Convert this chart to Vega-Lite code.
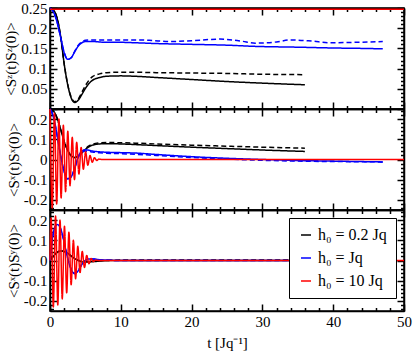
{
  "$schema": "https://vega.github.io/schema/vega-lite/v6.json",
  "padding": {"top": 0, "left": 3, "right": 5, "bottom": 3},
  "spacing": 0,
  "bounds": "flush",
  "config": {
    "font": "Liberation Serif",
    "style": {"guide-label": {"font": "Liberation Serif", "fontWeight": "normal"}, "guide-title": {"font": "Liberation Serif", "fontWeight": "normal"}},
    "view": {"stroke": "black", "strokeWidth": 1.5},
    "axis": {"grid": false, "zindex": 1, "domainColor": "black", "domainWidth": 1.5, "tickColor": "black", "tickWidth": 1.5, "labelFont": "Liberation Serif", "labelFontSize": 15, "labelColor": "black", "titleFont": "Liberation Serif", "titleFontSize": 15, "titleFontWeight": "normal", "titleColor": "black", "labelOverlap": false, "labelFlush": false},
    "legend": {"labelFont": "Liberation Serif"}
  },
  "datasets": {
    "zz": [
      {"s":"a","d":"solid","t":0,"v":0.25},{"s":"a","d":"solid","t":0.5,"v":0.245},{"s":"a","d":"solid","t":1,"v":0.225},{"s":"a","d":"solid","t":1.5,"v":0.18},{"s":"a","d":"solid","t":2,"v":0.112},{"s":"a","d":"solid","t":2.5,"v":0.06},{"s":"a","d":"solid","t":3,"v":0.027},{"s":"a","d":"solid","t":3.5,"v":0.016},{"s":"a","d":"solid","t":4,"v":0.022},{"s":"a","d":"solid","t":4.5,"v":0.036},{"s":"a","d":"solid","t":5,"v":0.051},{"s":"a","d":"solid","t":5.5,"v":0.063},{"s":"a","d":"solid","t":6,"v":0.071},{"s":"a","d":"solid","t":7,"v":0.078},{"s":"a","d":"solid","t":8,"v":0.081},{"s":"a","d":"solid","t":10,"v":0.082},{"s":"a","d":"solid","t":12,"v":0.081},{"s":"a","d":"solid","t":15,"v":0.078},{"s":"a","d":"solid","t":20,"v":0.073},{"s":"a","d":"solid","t":25,"v":0.068},{"s":"a","d":"solid","t":30,"v":0.064},{"s":"a","d":"solid","t":36,"v":0.06},
      {"s":"a","d":"dashed","t":0,"v":0.25},{"s":"a","d":"dashed","t":0.5,"v":0.245},{"s":"a","d":"dashed","t":1,"v":0.225},{"s":"a","d":"dashed","t":1.5,"v":0.18},{"s":"a","d":"dashed","t":2,"v":0.112},{"s":"a","d":"dashed","t":2.5,"v":0.061},{"s":"a","d":"dashed","t":3,"v":0.029},{"s":"a","d":"dashed","t":3.5,"v":0.018},{"s":"a","d":"dashed","t":4,"v":0.025},{"s":"a","d":"dashed","t":4.5,"v":0.041},{"s":"a","d":"dashed","t":5,"v":0.058},{"s":"a","d":"dashed","t":5.5,"v":0.071},{"s":"a","d":"dashed","t":6,"v":0.08},{"s":"a","d":"dashed","t":7,"v":0.087},{"s":"a","d":"dashed","t":8,"v":0.09},{"s":"a","d":"dashed","t":10,"v":0.091},{"s":"a","d":"dashed","t":12,"v":0.091},{"s":"a","d":"dashed","t":15,"v":0.09},{"s":"a","d":"dashed","t":20,"v":0.089},{"s":"a","d":"dashed","t":25,"v":0.088},{"s":"a","d":"dashed","t":30,"v":0.086},{"s":"a","d":"dashed","t":36,"v":0.085},
      {"s":"b","d":"solid","t":0,"v":0.25},{"s":"b","d":"solid","t":0.5,"v":0.24},{"s":"b","d":"solid","t":1,"v":0.215},{"s":"b","d":"solid","t":1.5,"v":0.178},{"s":"b","d":"solid","t":2,"v":0.14},{"s":"b","d":"solid","t":2.5,"v":0.123},{"s":"b","d":"solid","t":3,"v":0.127},{"s":"b","d":"solid","t":3.5,"v":0.142},{"s":"b","d":"solid","t":4,"v":0.156},{"s":"b","d":"solid","t":4.5,"v":0.164},{"s":"b","d":"solid","t":5,"v":0.167},{"s":"b","d":"solid","t":6,"v":0.167},{"s":"b","d":"solid","t":8,"v":0.165},{"s":"b","d":"solid","t":10,"v":0.165},{"s":"b","d":"solid","t":12,"v":0.164},{"s":"b","d":"solid","t":15,"v":0.162},{"s":"b","d":"solid","t":20,"v":0.16},{"s":"b","d":"solid","t":25,"v":0.158},{"s":"b","d":"solid","t":29,"v":0.155},{"s":"b","d":"solid","t":35,"v":0.153},{"s":"b","d":"solid","t":40,"v":0.151},{"s":"b","d":"solid","t":44,"v":0.15},{"s":"b","d":"solid","t":47,"v":0.149},
      {"s":"b","d":"dashed","t":0,"v":0.25},{"s":"b","d":"dashed","t":0.5,"v":0.24},{"s":"b","d":"dashed","t":1,"v":0.215},{"s":"b","d":"dashed","t":1.5,"v":0.178},{"s":"b","d":"dashed","t":2,"v":0.14},{"s":"b","d":"dashed","t":2.5,"v":0.123},{"s":"b","d":"dashed","t":3,"v":0.127},{"s":"b","d":"dashed","t":3.5,"v":0.143},{"s":"b","d":"dashed","t":4,"v":0.158},{"s":"b","d":"dashed","t":4.5,"v":0.166},{"s":"b","d":"dashed","t":5,"v":0.17},{"s":"b","d":"dashed","t":6,"v":0.171},{"s":"b","d":"dashed","t":8,"v":0.171},{"s":"b","d":"dashed","t":10,"v":0.171},{"s":"b","d":"dashed","t":12,"v":0.171},{"s":"b","d":"dashed","t":14,"v":0.17},{"s":"b","d":"dashed","t":17,"v":0.167},{"s":"b","d":"dashed","t":20,"v":0.169},{"s":"b","d":"dashed","t":24,"v":0.173},{"s":"b","d":"dashed","t":27,"v":0.168},{"s":"b","d":"dashed","t":29,"v":0.163},{"s":"b","d":"dashed","t":32,"v":0.166},{"s":"b","d":"dashed","t":34,"v":0.171},{"s":"b","d":"dashed","t":37,"v":0.168},{"s":"b","d":"dashed","t":39.5,"v":0.164},{"s":"b","d":"dashed","t":43,"v":0.165},{"s":"b","d":"dashed","t":47,"v":0.167},
      {"s":"c","d":"solid","t":0,"v":0.247},{"s":"c","d":"solid","t":50,"v":0.247}
    ],
    "xx": [
      {"s":"a","d":"solid","t":0,"v":0.25},{"s":"a","d":"solid","t":0.5,"v":0.24},{"s":"a","d":"solid","t":1,"v":0.205},{"s":"a","d":"solid","t":1.5,"v":0.15},{"s":"a","d":"solid","t":2,"v":0.09},{"s":"a","d":"solid","t":2.5,"v":0.045},{"s":"a","d":"solid","t":3,"v":0.018},{"s":"a","d":"solid","t":3.5,"v":0.01},{"s":"a","d":"solid","t":4,"v":0.018},{"s":"a","d":"solid","t":4.5,"v":0.033},{"s":"a","d":"solid","t":5,"v":0.05},{"s":"a","d":"solid","t":5.5,"v":0.063},{"s":"a","d":"solid","t":6,"v":0.071},{"s":"a","d":"solid","t":7,"v":0.077},{"s":"a","d":"solid","t":8,"v":0.078},{"s":"a","d":"solid","t":10,"v":0.077},{"s":"a","d":"solid","t":12,"v":0.074},{"s":"a","d":"solid","t":15,"v":0.069},{"s":"a","d":"solid","t":20,"v":0.061},{"s":"a","d":"solid","t":25,"v":0.054},{"s":"a","d":"solid","t":30,"v":0.047},{"s":"a","d":"solid","t":36,"v":0.04},
      {"s":"a","d":"dashed","t":0,"v":0.25},{"s":"a","d":"dashed","t":0.5,"v":0.24},{"s":"a","d":"dashed","t":1,"v":0.205},{"s":"a","d":"dashed","t":1.5,"v":0.15},{"s":"a","d":"dashed","t":2,"v":0.09},{"s":"a","d":"dashed","t":2.5,"v":0.045},{"s":"a","d":"dashed","t":3,"v":0.018},{"s":"a","d":"dashed","t":3.5,"v":0.01},{"s":"a","d":"dashed","t":4,"v":0.018},{"s":"a","d":"dashed","t":4.5,"v":0.034},{"s":"a","d":"dashed","t":5,"v":0.053},{"s":"a","d":"dashed","t":5.5,"v":0.067},{"s":"a","d":"dashed","t":6,"v":0.076},{"s":"a","d":"dashed","t":7,"v":0.082},{"s":"a","d":"dashed","t":8,"v":0.084},{"s":"a","d":"dashed","t":10,"v":0.083},{"s":"a","d":"dashed","t":12,"v":0.081},{"s":"a","d":"dashed","t":15,"v":0.077},{"s":"a","d":"dashed","t":20,"v":0.071},{"s":"a","d":"dashed","t":25,"v":0.066},{"s":"a","d":"dashed","t":30,"v":0.061},{"s":"a","d":"dashed","t":36,"v":0.056},
      {"s":"b","d":"solid","t":0,"v":0.25},{"s":"b","d":"solid","t":0.5,"v":0.21},{"s":"b","d":"solid","t":1,"v":0.12},{"s":"b","d":"solid","t":1.5,"v":0.02},{"s":"b","d":"solid","t":2,"v":-0.06},{"s":"b","d":"solid","t":2.5,"v":-0.095},{"s":"b","d":"solid","t":3,"v":-0.085},{"s":"b","d":"solid","t":3.5,"v":-0.04},{"s":"b","d":"solid","t":4,"v":0.015},{"s":"b","d":"solid","t":4.5,"v":0.042},{"s":"b","d":"solid","t":5,"v":0.048},{"s":"b","d":"solid","t":5.5,"v":0.046},{"s":"b","d":"solid","t":6,"v":0.042},{"s":"b","d":"solid","t":7,"v":0.038},{"s":"b","d":"solid","t":8,"v":0.036},{"s":"b","d":"solid","t":10,"v":0.034},{"s":"b","d":"solid","t":12,"v":0.032},{"s":"b","d":"solid","t":15,"v":0.025},{"s":"b","d":"solid","t":20,"v":0.014},{"s":"b","d":"solid","t":25,"v":0.006},{"s":"b","d":"solid","t":30,"v":0.0},{"s":"b","d":"solid","t":35,"v":-0.005},{"s":"b","d":"solid","t":40,"v":-0.008},{"s":"b","d":"solid","t":47,"v":-0.012},
      {"s":"b","d":"dashed","t":0,"v":0.25},{"s":"b","d":"dashed","t":0.5,"v":0.21},{"s":"b","d":"dashed","t":1,"v":0.12},{"s":"b","d":"dashed","t":1.5,"v":0.02},{"s":"b","d":"dashed","t":2,"v":-0.06},{"s":"b","d":"dashed","t":2.5,"v":-0.095},{"s":"b","d":"dashed","t":3,"v":-0.085},{"s":"b","d":"dashed","t":3.5,"v":-0.042},{"s":"b","d":"dashed","t":4,"v":0.01},{"s":"b","d":"dashed","t":4.5,"v":0.036},{"s":"b","d":"dashed","t":5,"v":0.042},{"s":"b","d":"dashed","t":5.5,"v":0.04},{"s":"b","d":"dashed","t":6,"v":0.037},{"s":"b","d":"dashed","t":7,"v":0.033},{"s":"b","d":"dashed","t":8,"v":0.031},{"s":"b","d":"dashed","t":10,"v":0.029},{"s":"b","d":"dashed","t":12,"v":0.026},{"s":"b","d":"dashed","t":15,"v":0.02},{"s":"b","d":"dashed","t":20,"v":0.01},{"s":"b","d":"dashed","t":25,"v":0.002},{"s":"b","d":"dashed","t":30,"v":-0.004},{"s":"b","d":"dashed","t":35,"v":-0.008},{"s":"b","d":"dashed","t":40,"v":-0.01},{"s":"b","d":"dashed","t":47,"v":-0.012},
      {"s":"c","d":"solid","t":0,"v":0.25},{"s":"c","d":"solid","t":0.314,"v":-0.24},{"s":"c","d":"solid","t":0.628,"v":0.23},{"s":"c","d":"solid","t":0.942,"v":-0.22},{"s":"c","d":"solid","t":1.257,"v":0.2},{"s":"c","d":"solid","t":1.571,"v":-0.19},{"s":"c","d":"solid","t":1.885,"v":0.17},{"s":"c","d":"solid","t":2.199,"v":-0.16},{"s":"c","d":"solid","t":2.513,"v":0.14},{"s":"c","d":"solid","t":2.827,"v":-0.13},{"s":"c","d":"solid","t":3.142,"v":0.11},{"s":"c","d":"solid","t":3.456,"v":-0.1},{"s":"c","d":"solid","t":3.77,"v":0.085},{"s":"c","d":"solid","t":4.084,"v":-0.072},{"s":"c","d":"solid","t":4.398,"v":0.06},{"s":"c","d":"solid","t":4.712,"v":-0.048},{"s":"c","d":"solid","t":5.027,"v":0.038},{"s":"c","d":"solid","t":5.341,"v":-0.028},{"s":"c","d":"solid","t":5.655,"v":0.02},{"s":"c","d":"solid","t":5.969,"v":-0.014},{"s":"c","d":"solid","t":6.283,"v":0.009},{"s":"c","d":"solid","t":6.597,"v":-0.005},{"s":"c","d":"solid","t":6.912,"v":0.002},{"s":"c","d":"solid","t":7.3,"v":0},{"s":"c","d":"solid","t":50,"v":0}
    ],
    "xy": [
      {"s":"a","d":"solid","t":0,"v":0},{"s":"a","d":"solid","t":0.5,"v":0.022},{"s":"a","d":"solid","t":1,"v":0.04},{"s":"a","d":"solid","t":1.5,"v":0.047},{"s":"a","d":"solid","t":2,"v":0.045},{"s":"a","d":"solid","t":2.5,"v":0.036},{"s":"a","d":"solid","t":3,"v":0.022},{"s":"a","d":"solid","t":3.5,"v":0.009},{"s":"a","d":"solid","t":4,"v":0.0},{"s":"a","d":"solid","t":4.5,"v":-0.006},{"s":"a","d":"solid","t":5,"v":-0.008},{"s":"a","d":"solid","t":6,"v":-0.006},{"s":"a","d":"solid","t":7,"v":-0.003},{"s":"a","d":"solid","t":8,"v":-0.001},{"s":"a","d":"solid","t":10,"v":0},{"s":"a","d":"solid","t":36,"v":0},
      {"s":"a","d":"dashed","t":0,"v":0},{"s":"a","d":"dashed","t":0.5,"v":0.022},{"s":"a","d":"dashed","t":1,"v":0.04},{"s":"a","d":"dashed","t":1.5,"v":0.047},{"s":"a","d":"dashed","t":2,"v":0.045},{"s":"a","d":"dashed","t":2.5,"v":0.036},{"s":"a","d":"dashed","t":3,"v":0.022},{"s":"a","d":"dashed","t":3.5,"v":0.009},{"s":"a","d":"dashed","t":4,"v":0.001},{"s":"a","d":"dashed","t":4.5,"v":-0.004},{"s":"a","d":"dashed","t":5,"v":-0.005},{"s":"a","d":"dashed","t":6,"v":-0.003},{"s":"a","d":"dashed","t":7,"v":-0.001},{"s":"a","d":"dashed","t":8,"v":0.001},{"s":"a","d":"dashed","t":10,"v":0.002},{"s":"a","d":"dashed","t":36,"v":0.002},
      {"s":"b","d":"solid","t":0,"v":0},{"s":"b","d":"solid","t":0.3,"v":0.1},{"s":"b","d":"solid","t":0.6,"v":0.155},{"s":"b","d":"solid","t":1,"v":0.178},{"s":"b","d":"solid","t":1.3,"v":0.172},{"s":"b","d":"solid","t":1.7,"v":0.135},{"s":"b","d":"solid","t":2,"v":0.09},{"s":"b","d":"solid","t":2.5,"v":0.01},{"s":"b","d":"solid","t":3,"v":-0.045},{"s":"b","d":"solid","t":3.5,"v":-0.065},{"s":"b","d":"solid","t":4,"v":-0.05},{"s":"b","d":"solid","t":4.5,"v":-0.02},{"s":"b","d":"solid","t":5,"v":0.0},{"s":"b","d":"solid","t":5.5,"v":0.008},{"s":"b","d":"solid","t":6,"v":0.008},{"s":"b","d":"solid","t":7,"v":0.004},{"s":"b","d":"solid","t":8,"v":0.002},{"s":"b","d":"solid","t":10,"v":0},{"s":"b","d":"solid","t":47,"v":0},
      {"s":"b","d":"dashed","t":0,"v":0},{"s":"b","d":"dashed","t":0.3,"v":0.1},{"s":"b","d":"dashed","t":0.6,"v":0.155},{"s":"b","d":"dashed","t":1,"v":0.177},{"s":"b","d":"dashed","t":1.3,"v":0.171},{"s":"b","d":"dashed","t":1.7,"v":0.134},{"s":"b","d":"dashed","t":2,"v":0.09},{"s":"b","d":"dashed","t":2.5,"v":0.012},{"s":"b","d":"dashed","t":3,"v":-0.043},{"s":"b","d":"dashed","t":3.5,"v":-0.063},{"s":"b","d":"dashed","t":4,"v":-0.048},{"s":"b","d":"dashed","t":4.5,"v":-0.019},{"s":"b","d":"dashed","t":5,"v":0.0},{"s":"b","d":"dashed","t":5.5,"v":0.007},{"s":"b","d":"dashed","t":6,"v":0.007},{"s":"b","d":"dashed","t":7,"v":0.004},{"s":"b","d":"dashed","t":8,"v":0.002},{"s":"b","d":"dashed","t":10,"v":0},{"s":"b","d":"dashed","t":47,"v":0},
      {"s":"c","d":"solid","t":0,"v":0},{"s":"c","d":"solid","t":0.157,"v":0.21},{"s":"c","d":"solid","t":0.471,"v":-0.23},{"s":"c","d":"solid","t":0.785,"v":0.22},{"s":"c","d":"solid","t":1.1,"v":-0.22},{"s":"c","d":"solid","t":1.414,"v":0.2},{"s":"c","d":"solid","t":1.728,"v":-0.19},{"s":"c","d":"solid","t":2.042,"v":0.17},{"s":"c","d":"solid","t":2.356,"v":-0.16},{"s":"c","d":"solid","t":2.67,"v":0.14},{"s":"c","d":"solid","t":2.985,"v":-0.12},{"s":"c","d":"solid","t":3.3,"v":0.1},{"s":"c","d":"solid","t":3.613,"v":-0.09},{"s":"c","d":"solid","t":3.927,"v":0.07},{"s":"c","d":"solid","t":4.241,"v":-0.06},{"s":"c","d":"solid","t":4.555,"v":0.045},{"s":"c","d":"solid","t":4.869,"v":-0.035},{"s":"c","d":"solid","t":5.184,"v":0.025},{"s":"c","d":"solid","t":5.498,"v":-0.016},{"s":"c","d":"solid","t":5.812,"v":0.01},{"s":"c","d":"solid","t":6.126,"v":-0.005},{"s":"c","d":"solid","t":6.44,"v":0.002},{"s":"c","d":"solid","t":6.8,"v":0},{"s":"c","d":"solid","t":50,"v":0}
    ]
  },
  "resolve": {"scale": {"color": "independent", "strokeDash": "independent"}, "legend": {"color": "independent", "strokeDash": "independent"}},
  "vconcat": [
    {
      "width": 354, "height": 101,
      "data": {"name": "zz"},
      "resolve": {"axis": {"x": "independent", "y": "independent"}},
      "layer": [
        {
          "mark": {"type": "line", "strokeWidth": 1.5, "interpolate": "monotone"},
          "encoding": {
            "x": {"field": "t", "type": "quantitative", "scale": {"domain": [0, 50], "nice": false}, "axis": {"orient": "bottom", "values": [0,2,4,6,8,10,12,14,16,18,20,22,24,26,28,30,32,34,36,38,40,42,44,46,48,50], "tickSize": {"condition": {"test": "datum.value % 10 === 0", "value": -7}, "value": -3.5}, "labels": false, "title": null}},
            "y": {"field": "v", "type": "quantitative", "scale": {"domain": [0, 0.25], "nice": false, "zero": false}, "axis": {"orient": "left", "values": [0,0.01,0.02,0.03,0.04,0.05,0.06,0.07,0.08,0.09,0.1,0.11,0.12,0.13,0.14,0.15,0.16,0.17,0.18,0.19,0.2,0.21,0.22,0.23,0.24,0.25], "tickSize": {"condition": {"test": "indexof([0,0.05,0.1,0.15,0.2,0.25], datum.value) >= 0", "value": -7}, "value": -3.5}, "labelExpr": "indexof([0.05,0.1,0.15,0.2,0.25], datum.value) >= 0 ? datum.value + '' : ''", "labelPadding": 10, "labelFont": "Liberation Serif", "titleFont": "Liberation Serif", "titleFontWeight": "normal", "title": "<Sᶻ(t)Sᶻ(0)>", "titlePadding": 2}},
            "color": {"field": "s", "type": "nominal", "scale": {"domain": ["a","b","c"], "range": ["#000000","#0000ff","#ff0000"]}, "legend": null},
            "strokeDash": {"field": "d", "type": "nominal", "scale": {"domain": ["solid","dashed"], "range": [[1,0],[5,3]]}, "legend": null}
          }
        },
        {
          "mark": {"type": "line", "strokeOpacity": 0},
          "encoding": {
            "x": {"field": "t", "type": "quantitative", "axis": {"orient": "top", "values": [0,2,4,6,8,10,12,14,16,18,20,22,24,26,28,30,32,34,36,38,40,42,44,46,48,50], "tickSize": {"condition": {"test": "datum.value % 10 === 0", "value": -7}, "value": -3.5}, "labels": false, "title": null}},
            "y": {"field": "v", "type": "quantitative", "axis": {"orient": "right", "values": [0,0.01,0.02,0.03,0.04,0.05,0.06,0.07,0.08,0.09,0.1,0.11,0.12,0.13,0.14,0.15,0.16,0.17,0.18,0.19,0.2,0.21,0.22,0.23,0.24,0.25], "tickSize": {"condition": {"test": "indexof([0,0.05,0.1,0.15,0.2,0.25], datum.value) >= 0", "value": -7}, "value": -3.5}, "labels": false, "title": null}}
          }
        }
      ]
    },
    {
      "width": 354, "height": 101,
      "data": {"name": "xx"},
      "resolve": {"axis": {"x": "independent", "y": "independent"}},
      "layer": [
        {
          "mark": {"type": "line", "strokeWidth": 1.5, "interpolate": "monotone"},
          "encoding": {
            "x": {"field": "t", "type": "quantitative", "scale": {"domain": [0, 50], "nice": false}, "axis": {"orient": "bottom", "values": [0,2,4,6,8,10,12,14,16,18,20,22,24,26,28,30,32,34,36,38,40,42,44,46,48,50], "tickSize": {"condition": {"test": "datum.value % 10 === 0", "value": -7}, "value": -3.5}, "labels": false, "title": null}},
            "y": {"field": "v", "type": "quantitative", "scale": {"domain": [-0.25, 0.25], "nice": false, "zero": false}, "axis": {"orient": "left", "values": [-0.24,-0.22,-0.2,-0.18,-0.16,-0.14,-0.12,-0.1,-0.08,-0.06,-0.04,-0.02,0,0.02,0.04,0.06,0.08,0.1,0.12,0.14,0.16,0.18,0.2,0.22,0.24], "tickSize": {"condition": {"test": "indexof([-0.2,-0.1,0,0.1,0.2], datum.value) >= 0", "value": -7}, "value": -3.5}, "labelExpr": "indexof([-0.2,-0.1,0,0.1,0.2], datum.value) >= 0 ? datum.value + '' : ''", "labelPadding": 10, "labelFont": "Liberation Serif", "titleFont": "Liberation Serif", "titleFontWeight": "normal", "title": "<Sˣ(t)Sˣ(0)>", "titlePadding": 2}},
            "color": {"field": "s", "type": "nominal", "scale": {"domain": ["a","b","c"], "range": ["#000000","#0000ff","#ff0000"]}, "legend": null},
            "strokeDash": {"field": "d", "type": "nominal", "scale": {"domain": ["solid","dashed"], "range": [[1,0],[5,3]]}, "legend": null}
          }
        },
        {
          "mark": {"type": "line", "strokeOpacity": 0},
          "encoding": {
            "x": {"field": "t", "type": "quantitative", "axis": {"orient": "top", "values": [0,2,4,6,8,10,12,14,16,18,20,22,24,26,28,30,32,34,36,38,40,42,44,46,48,50], "tickSize": {"condition": {"test": "datum.value % 10 === 0", "value": -7}, "value": -3.5}, "labels": false, "title": null}},
            "y": {"field": "v", "type": "quantitative", "axis": {"orient": "right", "values": [-0.24,-0.22,-0.2,-0.18,-0.16,-0.14,-0.12,-0.1,-0.08,-0.06,-0.04,-0.02,0,0.02,0.04,0.06,0.08,0.1,0.12,0.14,0.16,0.18,0.2,0.22,0.24], "tickSize": {"condition": {"test": "indexof([-0.2,-0.1,0,0.1,0.2], datum.value) >= 0", "value": -7}, "value": -3.5}, "labels": false, "title": null}}
          }
        }
      ]
    },
    {
      "width": 354, "height": 101,
      "data": {"name": "xy"},
      "resolve": {"axis": {"x": "independent", "y": "independent"}},
      "layer": [
        {
          "mark": {"type": "line", "strokeWidth": 1.5, "interpolate": "monotone"},
          "encoding": {
            "x": {"field": "t", "type": "quantitative", "scale": {"domain": [0, 50], "nice": false}, "axis": {"orient": "bottom", "values": [0,2,4,6,8,10,12,14,16,18,20,22,24,26,28,30,32,34,36,38,40,42,44,46,48,50], "tickSize": {"condition": {"test": "datum.value % 10 === 0", "value": -7}, "value": -3.5}, "labelExpr": "datum.value % 10 === 0 ? datum.value + '' : ''", "labelPadding": 10, "labelFont": "Liberation Serif", "titleFont": "Liberation Serif", "titleFontWeight": "normal", "title": "t [Jq⁻¹]", "titlePadding": 3}},
            "y": {"field": "v", "type": "quantitative", "scale": {"domain": [-0.25, 0.25], "nice": false, "zero": false}, "axis": {"orient": "left", "values": [-0.24,-0.22,-0.2,-0.18,-0.16,-0.14,-0.12,-0.1,-0.08,-0.06,-0.04,-0.02,0,0.02,0.04,0.06,0.08,0.1,0.12,0.14,0.16,0.18,0.2,0.22,0.24], "tickSize": {"condition": {"test": "indexof([-0.2,-0.1,0,0.1,0.2], datum.value) >= 0", "value": -7}, "value": -3.5}, "labelExpr": "indexof([-0.2,-0.1,0,0.1,0.2], datum.value) >= 0 ? datum.value + '' : ''", "labelPadding": 10, "labelFont": "Liberation Serif", "titleFont": "Liberation Serif", "titleFontWeight": "normal", "title": "<Sˣ(t)Sʸ(0)>", "titlePadding": 2}},
            "color": {"field": "s", "type": "nominal", "scale": {"domain": ["a","b","c"], "range": ["#000000","#0000ff","#ff0000"]}, "legend": {"orient": "top-right", "offset": 8, "title": null, "strokeColor": "black", "fillColor": "white", "padding": 9, "cornerRadius": 0, "labelFont": "Liberation Serif", "labelFontSize": 16, "labelColor": "black", "symbolType": "stroke", "symbolStrokeWidth": 1.5, "symbolSize": 100, "rowPadding": 7, "labelExpr": "datum.label == 'a' ? 'h₀ = 0.2 Jq' : datum.label == 'b' ? 'h₀ = Jq' : 'h₀ = 10 Jq'"}},
            "strokeDash": {"field": "d", "type": "nominal", "scale": {"domain": ["solid","dashed"], "range": [[1,0],[5,3]]}, "legend": null}
          }
        },
        {
          "mark": {"type": "line", "strokeOpacity": 0},
          "encoding": {
            "x": {"field": "t", "type": "quantitative", "axis": {"orient": "top", "values": [0,2,4,6,8,10,12,14,16,18,20,22,24,26,28,30,32,34,36,38,40,42,44,46,48,50], "tickSize": {"condition": {"test": "datum.value % 10 === 0", "value": -7}, "value": -3.5}, "labels": false, "title": null}},
            "y": {"field": "v", "type": "quantitative", "axis": {"orient": "right", "values": [-0.24,-0.22,-0.2,-0.18,-0.16,-0.14,-0.12,-0.1,-0.08,-0.06,-0.04,-0.02,0,0.02,0.04,0.06,0.08,0.1,0.12,0.14,0.16,0.18,0.2,0.22,0.24], "tickSize": {"condition": {"test": "indexof([-0.2,-0.1,0,0.1,0.2], datum.value) >= 0", "value": -7}, "value": -3.5}, "labels": false, "title": null}}
          }
        }
      ]
    }
  ]
}
